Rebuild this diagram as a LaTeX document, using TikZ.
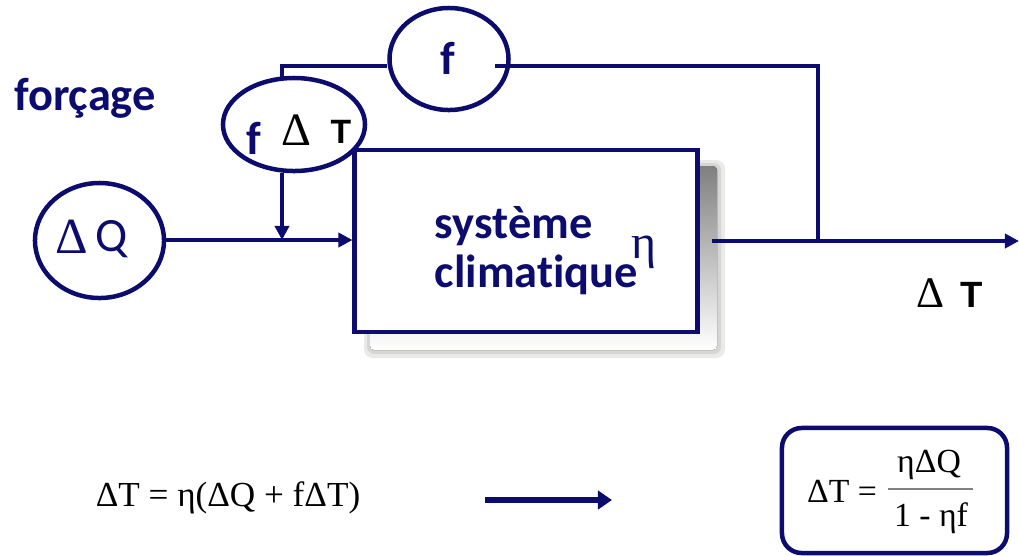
\documentclass[tikz,border=0pt]{standalone}
\usepackage{fontspec}
\setmainfont{Carlito}[Ligatures=NoCommon]
\newfontfamily\timesf{Liberation Serif}
\newfontfamily\arialf{Liberation Sans}
\usetikzlibrary{arrows.meta,shapes.geometric}
\definecolor{navy}{HTML}{0C0C6E}
\definecolor{shade}{HTML}{C4C4C0}
\tikzset{
  ring/.style={ellipse,draw=navy,line width=3.2pt,inner sep=0pt},
  wire/.style={draw=navy,line width=3pt},
  tip/.style={-{Triangle[length=10pt,width=10pt]}},
  big/.style={font=\fontsize{33}{40}\selectfont\bfseries,text=navy}
}
\begin{document}
\begin{tikzpicture}[x=0.025cm,y=-0.025cm]
\useasboundingbox (0,0) rectangle (1019,555);
% boxes
\fill[shade!35,rounded corners=6pt] (364,160) rectangle (725,358);
\fill[shade!70,rounded corners=5pt] (367,163) rectangle (721,354);
\fill[shade,rounded corners=3pt] (370,166) rectangle (717,350);
\node[draw=navy,line width=3.5pt,fill=white,minimum width=8.55cm,minimum height=4.55cm,inner sep=0pt] (sys) at (526,241) {};
\node[ring,minimum width=3.225cm,minimum height=2.875cm] (dq) at (99.5,240.5) {};
\node[ring,minimum width=2.975cm,minimum height=2.55cm] (fb) at (449,59) {};
\node[ring,minimum width=3.55cm,minimum height=2.325cm] (fdt) at (294,124.5) {};
% texts
\node[big] (forc) at (85,98) {forçage};
\node[big,anchor=base west] (sys1) at (430,238) {système};
\node[big,anchor=base west] (sys2) at (430,287) {climatique};
\node[text=navy,font=\timesf\fontsize{34}{40}\selectfont] (eta) at (644,252) {η};
\node[big] (flab) at (448,58) {f};
\node[big] (fdtf) at (254,138) {f};
\node[font=\timesf\fontsize{33}{38}\selectfont] (fdtd) at (296,130) {Δ};
\node[font=\arialf\bfseries\fontsize{24}{28}\selectfont] (fdtt) at (341,132) {T};
\node[text=navy,font=\timesf\fontsize{36}{40}\selectfont] (dqd) at (72,237) {Δ};
\node[text=navy,font=\fontsize{34}{38}\selectfont] (dqq) at (112,239) {Q};
\node[font=\timesf\fontsize{31}{36}\selectfont] (outd) at (931,293) {Δ};
\node[font=\arialf\bfseries\fontsize{26}{30}\selectfont] (outt) at (972,295) {T};
% connectors
\coordinate (sum) at (282,240);
\coordinate (fdtb) at (282,173);
\coordinate (fdtu) at (282,80);
\coordinate (lt) at (282,66);
\coordinate (fbr) at (495,66);
\coordinate (rt) at (818,66);
\coordinate (br) at (818,241);
\coordinate (sysr) at (712,241);
\coordinate (out) at (1019,241);
\draw[wire,tip] (dq.east |- sum) -- (sys.west |- sum);
\draw[wire,tip] (fdtb) -- (sum);
\draw[wire] (fdtu) -- (lt) -- (fb.west |- lt);
\draw[wire] (fbr) -- (rt) -- (br);
\draw[wire,tip] (sysr) -- (out);
% equations
\node[font=\timesf\fontsize{25}{30}\selectfont] (eq1) at (228,498) {ΔT = η(ΔQ + fΔT)};
\coordinate (ea) at (485,500);
\coordinate (eb) at (612,500);
\draw[draw=navy,line width=4.2pt,-{Triangle[length=10pt,width=13pt]}] (ea) -- (eb);
\node[draw=navy,line width=3.2pt,rounded corners=14pt,minimum width=5.625cm,minimum height=3.125cm] (res) at (894.5,490.5) {};
\node[font=\timesf\fontsize{24}{28}\selectfont] (resl) at (842,491) {ΔT =};
\node[font=\timesf\fontsize{24}{28}\selectfont] (num) at (929,465) {ηΔQ};
\node[font=\timesf\fontsize{24}{28}\selectfont] (den) at (931,518) {1 - ηf};
\draw[gray,line width=0.8pt] (888,489) -- (973,489);
\end{tikzpicture}
\end{document}
